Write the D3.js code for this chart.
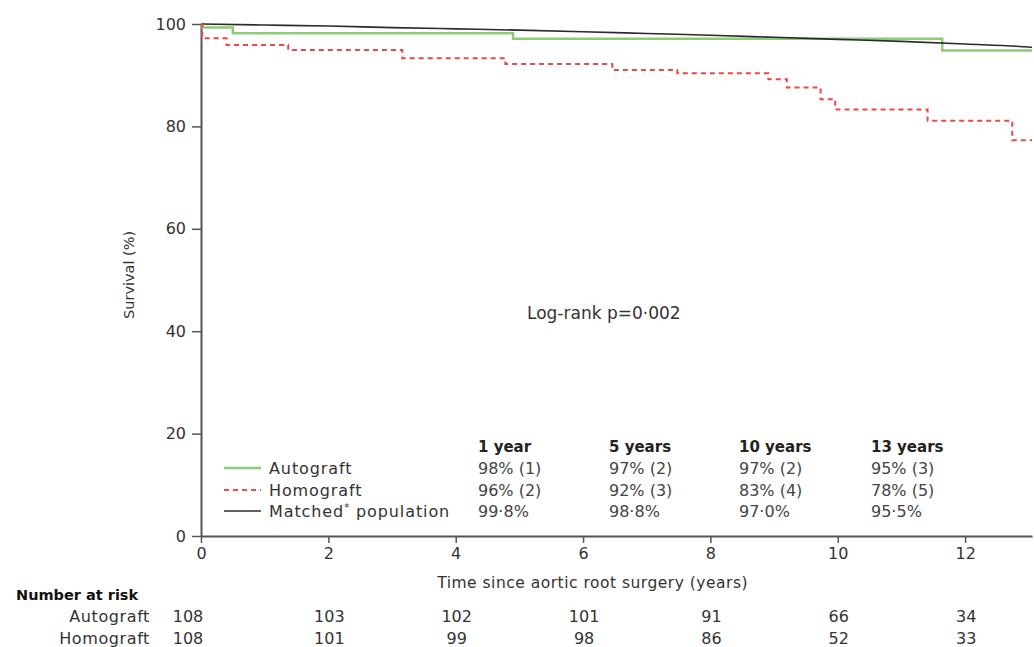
<!DOCTYPE html>
<html><head><meta charset="utf-8">
<script src="https://cdn.jsdelivr.net/npm/d3@7"></script>
<style>
html,body{margin:0;padding:0;background:#fff;}
svg{display:block;font-family:"DejaVu Sans",sans-serif;}
</style></head>
<body><svg id="c" width="1034" height="647"></svg>
<script>
// ---- data ----
const autoTimes = [0, 0.02, 0.5, 4.9, 11.64];
const autoSurv  = [100, 99.3, 98.2, 97.1, 94.8];
const homoTimes = [0, 0.02, 0.4, 1.37, 3.16, 4.78, 6.46, 7.48, 8.91, 9.2, 9.73, 9.96, 11.41, 12.74];
const homoSurv  = [100, 97.2, 95.9, 94.9, 93.3, 92.2, 91.0, 90.4, 89.2, 87.6, 85.3, 83.3, 81.1, 77.3];
const matchTimes = [0, 1, 2, 3, 4, 5, 6, 7, 8, 9, 10, 11, 12, 13];
const matchSurv  = [100, 99.8, 99.6, 99.3, 99.05, 98.8, 98.5, 98.15, 97.8, 97.4, 97.0, 96.6, 96.1, 95.5];
const endTime = 13.05;
const yTicks = [0, 20, 40, 60, 80, 100];
const xTicks = [0, 2, 4, 6, 8, 10, 12];
const seriesNames = ["Autograft", "Homograft", "Matched* population"];
const tableHeaders = ["1 year", "5 years", "10 years", "13 years"];
const tableAuto  = ["98% (1)", "97% (2)", "97% (2)", "95% (3)"];
const tableHomo  = ["96% (2)", "92% (3)", "83% (4)", "78% (5)"];
const tableMatch = ["99·8%", "98·8%", "97·0%", "95·5%"];
const riskTimes = [0, 2, 4, 6, 8, 10, 12];
const riskAuto = [108, 103, 102, 101, 91, 66, 34];
const riskHomo = [108, 101, 99, 98, 86, 52, 33];

// ---- styles ----
const GREEN = "#8ccb78", RED = "#e84a45", BLACK = "#2b2b2b", AXIS = "#555";
const svg = d3.select("#c");
const x = d3.scaleLinear().domain([0, endTime]).range([201, 1032]);
const y = d3.scaleLinear().domain([0, 100]).range([536, 24]);

// axes
const yAx = svg.append("g").attr("transform", `translate(${x(0)},0)`)
  .call(d3.axisLeft(y).tickValues(yTicks).tickSize(9).tickPadding(6).tickSizeOuter(0));
const xAx = svg.append("g").attr("transform", `translate(0,${y(0)})`)
  .call(d3.axisBottom(x).tickValues(xTicks).tickSize(7).tickPadding(5).tickSizeOuter(0));
[yAx, xAx].forEach(g => {
  g.select(".domain").attr("stroke", AXIS).attr("stroke-width", 2);
  g.selectAll(".tick line").attr("stroke", AXIS).attr("stroke-width", 1.5);
  g.selectAll(".tick text").attr("fill", "#333").style("font-size", "16px").style("font-family", "DejaVu Sans");
});

// axis titles
svg.append("text").attr("transform", `translate(${x(0) - 71},${y(51)}) rotate(-90)`)
  .attr("text-anchor", "middle").attr("dominant-baseline", "middle")
  .style("font-size", "14.5px").attr("fill", "#333").text("Survival (%)");
svg.append("text").attr("x", x(6.15)).attr("y", 588).attr("text-anchor", "middle")
  .style("font-size", "15.5px").style("letter-spacing", "0.5px").attr("fill", "#333")
  .text("Time since aortic root surgery (years)");

// curves
function stepData(ts, vs) {
  const d = ts.map((t, i) => [t, vs[i]]);
  d.push([endTime, vs[vs.length - 1]]);
  return d;
}
const stepLine = d3.line().x(d => x(d[0])).y(d => y(d[1])).curve(d3.curveStepAfter);
const smoothLine = d3.line().x(d => x(d[0])).y(d => y(d[1])).curve(d3.curveMonotoneX);

svg.append("path").datum(stepData(autoTimes, autoSurv)).attr("d", stepLine)
  .attr("fill", "none").attr("stroke", GREEN).attr("stroke-width", 2.5);
svg.append("path").datum(matchTimes.map((t, i) => [t, matchSurv[i]]).concat([[endTime, 95.45]])).attr("d", smoothLine)
  .attr("fill", "none").attr("stroke", BLACK).attr("stroke-width", 1.6);
svg.append("path").datum(stepData(homoTimes, homoSurv)).attr("d", stepLine)
  .attr("fill", "none").attr("stroke", RED).attr("stroke-width", 2).attr("stroke-dasharray", "5,4");

// log-rank
svg.append("text").attr("x", 527).attr("y", 319).style("font-size", "17px")
  .attr("fill", "#333").text("Log-rank p=0·002");

// legend
const legY = [468, 490, 511];
const legStyle = [
  {c: GREEN, w: 2.5, dash: null},
  {c: RED, w: 2, dash: "5,4"},
  {c: BLACK, w: 1.6, dash: null}
];
seriesNames.forEach((n, i) => {
  svg.append("line").attr("x1", 224).attr("x2", 261).attr("y1", legY[i]).attr("y2", legY[i])
    .attr("stroke", legStyle[i].c).attr("stroke-width", legStyle[i].w)
    .attr("stroke-dasharray", legStyle[i].dash);
  const t = svg.append("text").attr("x", 269).attr("y", legY[i] + 6)
    .style("font-size", "16px").style("letter-spacing", "0.9px").attr("fill", "#333");
  if (n.indexOf("*") >= 0) {
    const parts = n.split("*");
    t.append("tspan").text(parts[0]);
    t.append("tspan").attr("dy", -6).style("font-size", "10px").text("*");
    t.append("tspan").attr("dy", 6).text(parts[1]);
  } else t.text(n);
});

// table
const colX = [478, 609, 739, 871];
tableHeaders.forEach((h, j) => {
  svg.append("text").attr("x", colX[j]).attr("y", 447).attr("dy", "0.36em")
    .style("font-size", "15px").style("font-weight", "bold").attr("fill", "#222").text(h);
  [tableAuto, tableHomo, tableMatch].forEach((row, i) => {
    svg.append("text").attr("x", colX[j]).attr("y", legY[i]).attr("dy", "0.36em")
      .style("font-size", "16px").attr("fill", "#444").text(row[j]);
  });
});

// number at risk
svg.append("text").attr("x", 16).attr("y", 595).attr("dy", "0.36em")
  .style("font-size", "14.5px").style("font-weight", "bold").attr("fill", "#111").text("Number at risk");
[["Autograft", riskAuto, 616], ["Homograft", riskHomo, 638]].forEach(([lab, vals, yy]) => {
  svg.append("text").attr("x", 150).attr("y", yy).attr("dy", "0.36em").attr("text-anchor", "end")
    .style("font-size", "16px").style("letter-spacing", "0.6px").attr("fill", "#333").text(lab);
  vals.forEach((v, i) => {
    const px = i === 0 ? x(riskTimes[i]) - 13 : x(riskTimes[i]) + 1;
    svg.append("text").attr("x", px).attr("y", yy).attr("dy", "0.36em").attr("text-anchor", "middle")
      .style("font-size", "16px").attr("fill", "#333").text(v);
  });
});
</script></body></html>
